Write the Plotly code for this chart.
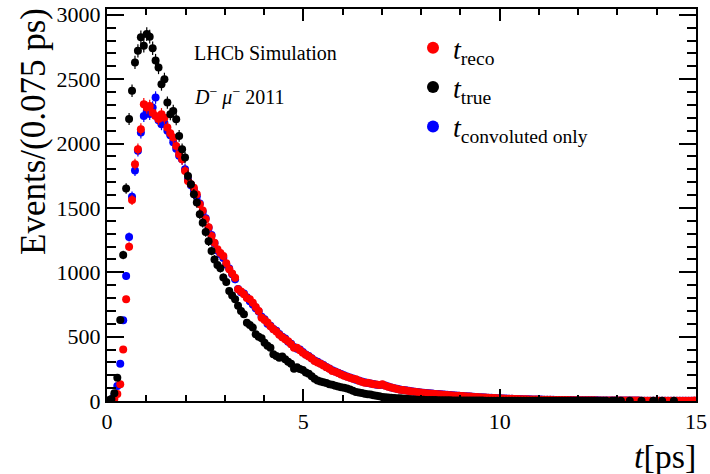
import numpy as np
import plotly.graph_objects as go

bin_width = 0.075
n_bins = 200
t_centers = [round(bin_width * (i + 0.5), 4) for i in range(n_bins)]

t_true = [
    5, 15, 60, 181, 629, 1134, 1650, 2190, 2410, 2630,
    2720, 2825, 2760, 2850, 2830, 2740, 2645, 2590, 2460, 2500,
    2318, 2228, 2253, 2188, 2059, 1956, 1891, 1748, 1684, 1606,
    1541, 1450, 1385, 1313, 1240, 1166, 1100, 1057, 1031, 960,
    925, 855, 820, 790, 740, 699, 674, 608, 590, 570,
    518, 500, 487, 453, 430, 414, 363, 350, 336, 345,
    324, 305, 290, 250, 262, 248, 240, 222, 212, 192,
    172, 160, 152, 145, 140, 130, 126, 119, 112, 106,
    103, 97, 90, 80, 70, 66, 62, 57, 53, 50,
    45, 41, 37, 32, 30, 28, 26, 24, 22, 21,
    19, 17, 15, 13, 11, 10, 10, 9, 8, 8,
    7, 7, 6, 6, 5, 5, 5, 4, 4, 4,
    4, 3, 3, 3, 3, 3, 3, 3, 2, 2,
    2, 2, 2, 2, 2, 2, 2, 2, 2, 2,
    2, 2, 2, 1, 2, 1, 1, 1, 1, 1,
    1, 1, 1, 1, 1, 1, 1, 1, 1, 1,
    1, 1, 1, 1, 1, 1, 1, 1, 1, 1,
    None, 1, 1, None, 1, None, None, 1, None, None,
    None, 1, None, None, None, 1, None, None, 1, None,
    None, None, 1, None, None, None, None, None, None, None,
]

t_reco = [
    2, 6, 18, 55, 130, 401, 790, 1199, 1562, 1839,
    1956, 2111, 2305, 2279, 2292, 2240, 2214, 2190, 2228, 2200,
    2124, 2080, 2046, 1981, 1917, 1878, 1787, 1709, 1684, 1657,
    1606, 1528, 1480, 1412, 1350, 1282, 1230, 1179, 1150, 1127,
    1070, 1023, 990, 958, 868, 850, 829, 800, 790, 764,
    730, 700, 647, 630, 610, 580, 557, 540, 515, 495,
    479, 465, 440, 414, 414, 395, 375, 360, 345, 330,
    311, 300, 290, 276, 262, 250, 233, 228, 218, 206,
    196, 188, 181, 172, 168, 157, 150, 142, 142, 136,
    131, 128, 125, 130, 118, 110, 104, 99, 94, 88,
    85, 82, 78, 74, 71, 68, 66, 63, 61, 59,
    57, 55, 53, 51, 49, 47, 45, 43, 41, 40,
    38, 37, 35, 34, 32, 31, 30, 28, 27, 25,
    24, 23, 21, 20, 19, 18, 18, 17, 16, 15,
    14, 14, 13, 12, 12, 11, 11, 10, 10, 9,
    9, 8, 8, 8, 7, 7, 7, 6, 6, 6,
    6, 5, 5, 5, 5, 5, 4, 4, 4, 4,
    4, 3, 3, 3, 3, 3, 3, 3, 3, 3,
    3, 2, 2, 2, 2, 2, 2, 2, 2, 2,
    2, 2, 2, 2, 2, 2, 2, 2, 2, 3,
]

t_conv = [
    2, 10, 40, 117, 290, 627, 971, 1274, 1587, 1790,
    1943, 2085, 2214, 2250, 2230, 2280, 2357, 2180, 2150, 2160,
    2100, 2065, 2010, 1960, 1905, 1878, 1800, 1720, 1675, 1640,
    1590, 1535, 1470, 1420, 1345, 1290, 1225, 1170, 1140, 1110,
    1060, 1030, 985, 945, 870, 845, 835, 805, 775, 750,
    720, 695, 655, 635, 600, 585, 560, 545, 520, 500,
    485, 460, 445, 420, 405, 400, 380, 362, 350, 332,
    315, 305, 292, 280, 265, 252, 238, 230, 220, 210,
    200, 190, 183, 175, 166, 160, 152, 145, 140, 135,
    132, 127, 124, 126, 120, 112, 105, 100, 96, 90,
    86, 83, 79, 75, 72, 69, 66, 64, 62, 60,
    58, 55, 54, 52, 50, 48, 46, 44, 42, 41,
    39, 37, 36, 34, 33, 31, 30, 29, 27, 26,
    25, 24, 22, 21, 20, 19, 18, 17, 16, 16,
    15, 14, 13, 13, 12, 12, 11, 11, 10, 10,
    9, 9, 8, 8, 8, 7, 7, 7, 6, 6,
    6, 6, 5, 5, 5, 5, 5, 4, 4, 4,
    4, 4, 3, 3, 3, 3, 3, 3, 3, 3,
    3, 2, 2, 2, 2, 2, 2, 2, 2, 2,
    2, 2, 2, 2, 2, 2, 2, 2, 2, 2,
]

FONT = "Liberation Serif"


def errs(vals):
    return [float(np.sqrt(v)) if v is not None else None for v in vals]


def trace(vals, color, name, rank):
    return go.Scatter(
        x=t_centers, y=vals, mode="markers", name=name, legendrank=rank,
        marker=dict(color=color, size=8, line=dict(width=0)),
        error_y=dict(type="data", array=errs(vals), visible=True,
                     color=color, thickness=1.2, width=0),
    )


fig = go.Figure()
fig.add_trace(trace(t_conv, "#0000ff", "<i>t</i><sub>convoluted only</sub>", 3))
fig.add_trace(trace(t_reco, "#ff0000", "<i>t</i><sub>reco</sub>", 1))
fig.add_trace(trace(t_true, "#000000", "<i>t</i><sub>true</sub>", 2))

W, H = 710, 474
ml, mr, mt, mb = 107, 14, 9, 73
PW, PH = W - ml - mr, H - mt - mb


def px_x(x):  # window pixel -> paper x
    return (x - ml) / PW


def px_y(y):  # window pixel -> paper y
    return (H - mb - y) / PH


axis_common = dict(
    showgrid=False, zeroline=False, showline=True, linecolor="black",
    linewidth=2, mirror="allticks", ticks="inside", tickcolor="black",
    tickwidth=1.5, tickfont=dict(family=FONT, size=22, color="black"),
    automargin=False, ticklabeloverflow="allow",
)

fig.update_xaxes(range=[0, 15], tickvals=[0, 5, 10, 15], ticklen=12,
                 minor=dict(dtick=1, ticks="inside", ticklen=6,
                            tickcolor="black", tickwidth=1.5),
                 **axis_common)
fig.update_yaxes(range=[0, 3045], tickvals=[0, 500, 1000, 1500, 2000, 2500, 3000],
                 ticklen=17,
                 minor=dict(dtick=100, ticks="inside", ticklen=9,
                            tickcolor="black", tickwidth=1.5),
                 **axis_common)

fig.update_layout(
    width=W, height=H,
    margin=dict(l=ml, r=mr, t=mt, b=mb, pad=0, autoexpand=False),
    paper_bgcolor="white", plot_bgcolor="white",
    font=dict(family=FONT, color="black"),
    showlegend=True,
    legend=dict(x=px_x(413), y=px_y(23), xanchor="left", yanchor="top",
                bgcolor="rgba(0,0,0,0)", font=dict(family=FONT, size=28),
                tracegroupgap=0, itemsizing="constant"),
    annotations=[
        dict(text="Events/(0.075 ps)", textangle=-90, xref="paper", yref="paper",
             x=px_x(12), y=px_y(6), xanchor="left", yanchor="top",
             showarrow=False, font=dict(family=FONT, size=35)),
        dict(text="<i>t</i>[ps]", xref="paper", yref="paper", x=px_x(698),
             y=px_y(456), xanchor="right", yanchor="middle",
             showarrow=False, font=dict(family=FONT, size=34)),
        dict(text="LHCb Simulation", xref="paper", yref="paper",
             x=px_x(192), y=px_y(53),
             xanchor="left", yanchor="middle", showarrow=False,
             font=dict(family=FONT, size=20)),
        dict(text="<i>D</i><sup>−</sup> <i>μ</i><sup>−</sup> 2011", xref="paper", yref="paper",
             x=px_x(192), y=px_y(96),
             xanchor="left", yanchor="middle", showarrow=False,
             font=dict(family=FONT, size=20)),
    ],
)

fig.write_html(
    "out.html",
    config={"displayModeBar": False},
    post_script="document.body.style.margin='0';document.body.style.overflow='hidden';",
)
